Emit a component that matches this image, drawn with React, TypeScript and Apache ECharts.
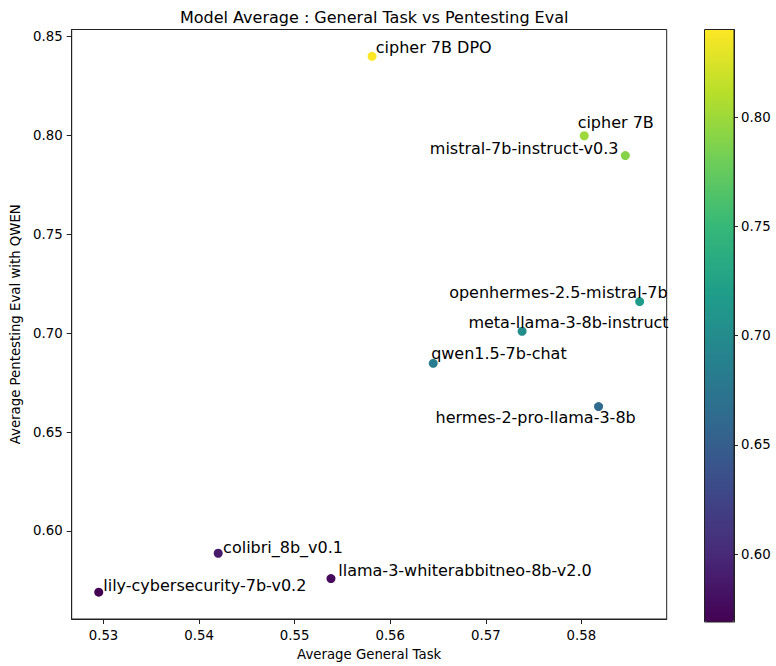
import React, { useEffect, useRef } from "react";
import * as echarts from "echarts";

// ---- data ----
const models = [
  "cipher 7B DPO",
  "cipher 7B",
  "mistral-7b-instruct-v0.3",
  "openhermes-2.5-mistral-7b",
  "meta-llama-3-8b-instruct",
  "qwen1.5-7b-chat",
  "hermes-2-pro-llama-3-8b",
  "colibri_8b_v0.1",
  "llama-3-whiterabbitneo-8b-v2.0",
  "lily-cybersecurity-7b-v0.2",
];
const generalTask = [0.5581, 0.5803, 0.5846, 0.5861, 0.5738, 0.5645, 0.5818, 0.542, 0.5538, 0.5295];
const pentestEval = [0.8401, 0.7999, 0.7899, 0.716, 0.701, 0.6848, 0.6629, 0.5887, 0.5759, 0.569];
const xTicks = [0.53, 0.54, 0.55, 0.56, 0.57, 0.58];
const yTicks = [0.6, 0.65, 0.7, 0.75, 0.8, 0.85];
const cbTicks = [0.6, 0.65, 0.7, 0.75, 0.8];

// ---- style ----
const labelOffsets = [
  [3.7, -5.8],
  [-6.6, -10.8],
  [-195.5, -4.2],
  [-190.5, -6.2],
  [-53.7, -6.5],
  [-2.1, -7.2],
  [-163, 13.7],
  [4.9, -3.6],
  [7.3, -5.6],
  [4.5, -4.4],
];
const viridis = [
  "#440154", "#482878", "#3e4989", "#31688e", "#26828e",
  "#1f9e89", "#35b779", "#6ece58", "#b5de2b", "#fde725",
];
const FONT = "DejaVu Sans";
const INK = "#000";
const SPINE = "#222";
const SYM = 9;

export default function App() {
  const ref = useRef<HTMLDivElement>(null);
  useEffect(() => {
    if (!ref.current) return;
    const chart = echarts.init(ref.current, undefined, { renderer: "svg" });
    const xMinD = Math.min(...generalTask), xMaxD = Math.max(...generalTask);
    const yMinD = Math.min(...pentestEval), yMaxD = Math.max(...pentestEval);
    const xPad = (xMaxD - xMinD) * 0.05, yPad = (yMaxD - yMinD) * 0.05;
    const data = models.map((m, i) => ({
      name: m,
      value: [generalTask[i], pentestEval[i]],
      label: {
        show: true,
        formatter: m,
        position: [labelOffsets[i][0] + SYM / 2, labelOffsets[i][1] + SYM / 2 + 5.5],
        align: "left",
        verticalAlign: "bottom",
        color: INK,
        textBorderWidth: 0,
        fontFamily: FONT,
        fontSize: 16,
      },
    }));
    const fmt = (v: number) => v.toFixed(2);
    chart.setOption({
      animation: false,
      textStyle: { fontFamily: FONT },
      title: {
        text: "Model Average : General Task vs Pentesting Eval",
        left: 369.2,
        top: 4,
        textAlign: "center",
        textStyle: { fontFamily: FONT, fontSize: 16, fontWeight: "normal", color: INK },
      },
      grid: [
        { left: 71.7, top: 29.5, width: 595, height: 592.5, show: true, borderColor: SPINE, borderWidth: 1, backgroundColor: "transparent" },
        { left: 704.5, top: 29.5, width: 29.5, height: 592.5, show: true, borderColor: SPINE, borderWidth: 1, backgroundColor: "transparent", z: 10 },
      ],
      xAxis: [
        {
          type: "value",
          gridIndex: 0,
          min: xMinD - xPad,
          max: xMaxD + xPad,
          name: "Average General Task",
          nameLocation: "middle",
          nameGap: 29,
          nameTextStyle: { fontFamily: FONT, fontSize: 13.3, color: INK },
          axisLine: { show: true, lineStyle: { color: SPINE, width: 1 } },
          axisTick: { show: true, inside: false, length: 5, lineStyle: { color: SPINE }, customValues: xTicks },
          axisLabel: { show: true, margin: 10, fontFamily: FONT, fontSize: 13.3, color: INK, customValues: xTicks, formatter: fmt },
          splitLine: { show: false },
        },
        {
          type: "value",
          gridIndex: 1,
          show: false,
          min: 0,
          max: 1,
        },
      ],
      yAxis: [
        {
          type: "value",
          gridIndex: 0,
          min: yMinD - yPad,
          max: yMaxD + yPad,
          name: "Average Pentesting Eval with QWEN",
          nameLocation: "middle",
          nameGap: 41,
          nameTextStyle: { fontFamily: FONT, fontSize: 13.3, color: INK },
          axisLine: { show: true, lineStyle: { color: SPINE, width: 1 } },
          axisTick: { show: true, inside: false, length: 5, lineStyle: { color: SPINE }, customValues: yTicks },
          axisLabel: { show: true, margin: 9, fontFamily: FONT, fontSize: 13.3, color: INK, customValues: yTicks, formatter: fmt },
          splitLine: { show: false },
        },
        {
          type: "value",
          gridIndex: 1,
          position: "right",
          min: yMinD,
          max: yMaxD,
          axisLine: { show: true, onZero: false, lineStyle: { color: SPINE, width: 1 } },
          axisTick: { show: true, inside: false, length: 4, lineStyle: { color: SPINE }, customValues: cbTicks },
          axisLabel: { show: true, margin: 7, fontFamily: FONT, fontSize: 13.3, color: INK, customValues: cbTicks, formatter: fmt },
          splitLine: { show: false },
        },
      ],
      visualMap: {
        type: "continuous",
        seriesIndex: 0,
        dimension: 1,
        min: yMinD,
        max: yMaxD,
        calculable: false,
        hoverLink: false,
        orient: "vertical",
        left: 704.5,
        top: 29.5,
        itemWidth: 29.5,
        itemHeight: 592.5,
        padding: 0,
        text: null,
        showLabel: false,
        inRange: { color: viridis },
        z: 2,
      },
      series: [
        {
          type: "scatter",
          xAxisIndex: 0,
          yAxisIndex: 0,
          symbol: "circle",
          symbolSize: SYM,
          itemStyle: { opacity: 1 },
          data,
          labelLayout: { hideOverlap: false },
          emphasis: { disabled: true },
        },
      ],
    });
    return () => chart.dispose();
  }, []);
  return (
    <div
      ref={ref}
      style={{ position: "fixed", left: 0, top: 0, width: 776, height: 666, background: "#fff" }}
    />
  );
}
